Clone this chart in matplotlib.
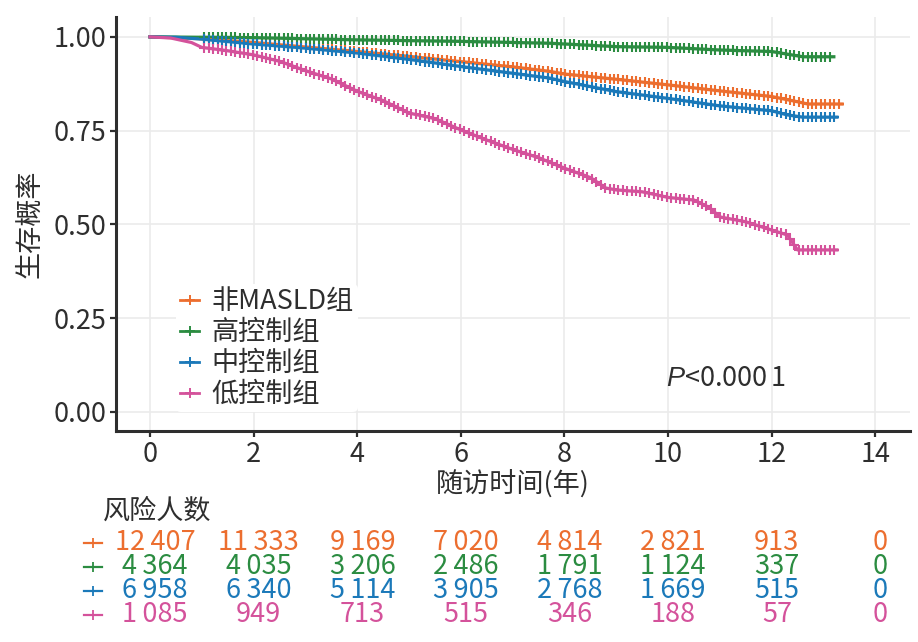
import numpy as np
import matplotlib
matplotlib.use("Agg")
import matplotlib.pyplot as plt
from matplotlib.lines import Line2D
from matplotlib.transforms import blended_transform_factory

plt.rcParams['font.family'] = ['Noto Sans CJK SC', 'DejaVu Sans']
plt.rcParams['mathtext.fontset'] = 'custom'
plt.rcParams['mathtext.it'] = 'Liberation Sans:italic'
plt.rcParams['mathtext.rm'] = 'Noto Sans CJK SC'

# ---- data ----
groups = ['非MASLD组', '高控制组', '中控制组', '低控制组']
colors = ['#EC6E2F', '#2B8C41', '#1B79B9', '#D4529B']

t_non = [0, 1, 2, 3, 4, 5, 6, 7, 7.72, 8, 9, 10, 11, 12, 12.5, 12.7, 13.36]
s_non = [1.0, 0.995, 0.985, 0.973, 0.961, 0.948, 0.934, 0.92, 0.908, 0.901, 0.887, 0.872, 0.856, 0.841, 0.827, 0.821, 0.821]

t_high = [0, 1, 2, 4, 6, 7.72, 9, 10, 11, 12, 12.3, 12.6, 13.2]
s_high = [1.0, 0.999, 0.998, 0.992, 0.988, 0.983, 0.974, 0.972, 0.965, 0.961, 0.954, 0.947, 0.947]

t_mid = [0, 0.5, 1, 2, 3, 4, 5, 6, 7, 7.72, 8, 9, 10, 11, 12, 12.3, 12.6, 13.26]
s_mid = [1.0, 0.999, 0.994, 0.981, 0.97, 0.957, 0.94, 0.921, 0.903, 0.89, 0.881, 0.854, 0.836, 0.816, 0.803, 0.792, 0.786, 0.786]

t_low = [0, 0.4, 0.8, 1.0, 1.5, 2.0, 2.5, 3.0, 3.5, 4.0, 4.5, 5.0, 5.5, 6.0, 6.5, 7.0, 7.5, 8.0,
         8.5, 8.8, 9.0, 9.5, 10.0, 10.5, 10.8, 11.0, 11.5, 12.0, 12.3, 12.5, 13.26]
s_low = [1.0, 0.997, 0.985, 0.972, 0.963, 0.952, 0.935, 0.91, 0.888, 0.855, 0.83, 0.797, 0.782, 0.752,
         0.725, 0.70, 0.678, 0.650, 0.625, 0.597, 0.592, 0.587, 0.572, 0.565, 0.545, 0.52, 0.507,
         0.485, 0.472, 0.432, 0.432]

times_list = [t_non, t_high, t_mid, t_low]
surv_list = [s_non, s_high, s_mid, s_low]
censor_start = [1.05, 1.05, 1.05, 1.05]

risk_times = [0, 2, 4, 6, 8, 10, 12, 14]
risk_non = ['12\u2009407', '11\u2009333', '9\u2009169', '7\u2009020', '4\u2009814', '2\u2009821', '913', '0']
risk_high = ['4\u2009364', '4\u2009035', '3\u2009206', '2\u2009486', '1\u2009791', '1\u2009124', '337', '0']
risk_mid = ['6\u2009958', '6\u2009340', '5\u2009114', '3\u2009905', '2\u2009768', '1\u2009669', '515', '0']
risk_low = ['1\u2009085', '949', '713', '515', '346', '188', '57', '0']
risk_rows = [risk_non, risk_high, risk_mid, risk_low]

xticks = [0, 2, 4, 6, 8, 10, 12, 14]
yticks = [0.0, 0.25, 0.5, 0.75, 1.0]
yticklabels = ['0.00', '0.25', '0.50', '0.75', '1.00']

# ---- style ----
TXT = '#2E2E2E'
FS = 19.5
W, H = 918, 642
fig = plt.figure(figsize=(W / 100, H / 100), dpi=100)
ax = fig.add_axes([116 / W, 1 - 431 / H, (910 - 116) / W, (431 - 17) / H])

ax.set_xlim(-0.656, 14.67)
ax.set_ylim(-0.0507, 1.053)
ax.grid(True, color='#EBEBEB', lw=1.2, zorder=0)
ax.set_axisbelow(True)
for s in ['top', 'right']:
    ax.spines[s].set_visible(False)
for s in ['left', 'bottom']:
    ax.spines[s].set_linewidth(2.2)
    ax.spines[s].set_color(TXT)
ax.set_xticks(xticks)
ax.set_yticks(yticks)
ax.set_yticklabels(yticklabels)
ax.tick_params(axis='both', labelsize=FS, colors=TXT, length=4, width=1.6, pad=3)

CENSOR_STEP = 0.085
for t, s, c, cs in zip(times_list, surv_list, colors, censor_start):
    ax.plot(t, s, color=c, lw=2.3, zorder=3, solid_joinstyle='round')
    ct = np.arange(cs, t[-1] + 1e-9, CENSOR_STEP)
    cy = np.interp(ct, t, s)
    ax.plot(ct, cy, ls='none', marker='+', ms=7.5, mew=1.5, color=c, zorder=4)

ax.set_xlabel('随访时间(年)', fontsize=FS, color=TXT, labelpad=2)
ax.set_ylabel('生存概率', fontsize=FS, color=TXT, labelpad=7)

ax.text(9.96, 0.09, r'$\mathit{P}$<0.000$\,$1', fontsize=FS, color=TXT,
        ha='left', va='center', zorder=5)

handles = [Line2D([0], [0], color=c, lw=2, marker='+', ms=7.5, mew=1.4) for c in colors]
leg = ax.legend(handles, groups, loc='upper left', bbox_to_anchor=((176 - 116) / (910 - 116), (431 - 284) / (431 - 17)),
                fontsize=FS, frameon=True, handlelength=0.7, handletextpad=0.45,
                labelspacing=0.15, borderpad=0.15, borderaxespad=0, labelcolor=TXT)
leg.get_frame().set_facecolor('white')
leg.get_frame().set_edgecolor('none')
leg.get_frame().set_alpha(1)
leg.set_zorder(2)

# ---- risk table ----
fig.text(103 / W, 1 - 511 / H, '风险人数', fontsize=FS, color=TXT, ha='left', va='center')
trans = blended_transform_factory(ax.transData, fig.transFigure)
row_y = [543, 567, 591, 615]
for row, c, yp in zip(risk_rows, colors, row_y):
    yf = 1 - yp / H
    fig.add_artist(Line2D([84 / W, 102 / W], [yf, yf], color=c, lw=1.6, transform=fig.transFigure))
    fig.add_artist(Line2D([93 / W], [yf], color=c, marker='+', ms=7, mew=1.3, ls='none', transform=fig.transFigure))
    for xt, val in zip(risk_times, row):
        fig.text(xt + 0.1, yf, val, transform=trans, fontsize=FS, color=c, ha='center', va='center')

fig.savefig('out.png', dpi=100)
